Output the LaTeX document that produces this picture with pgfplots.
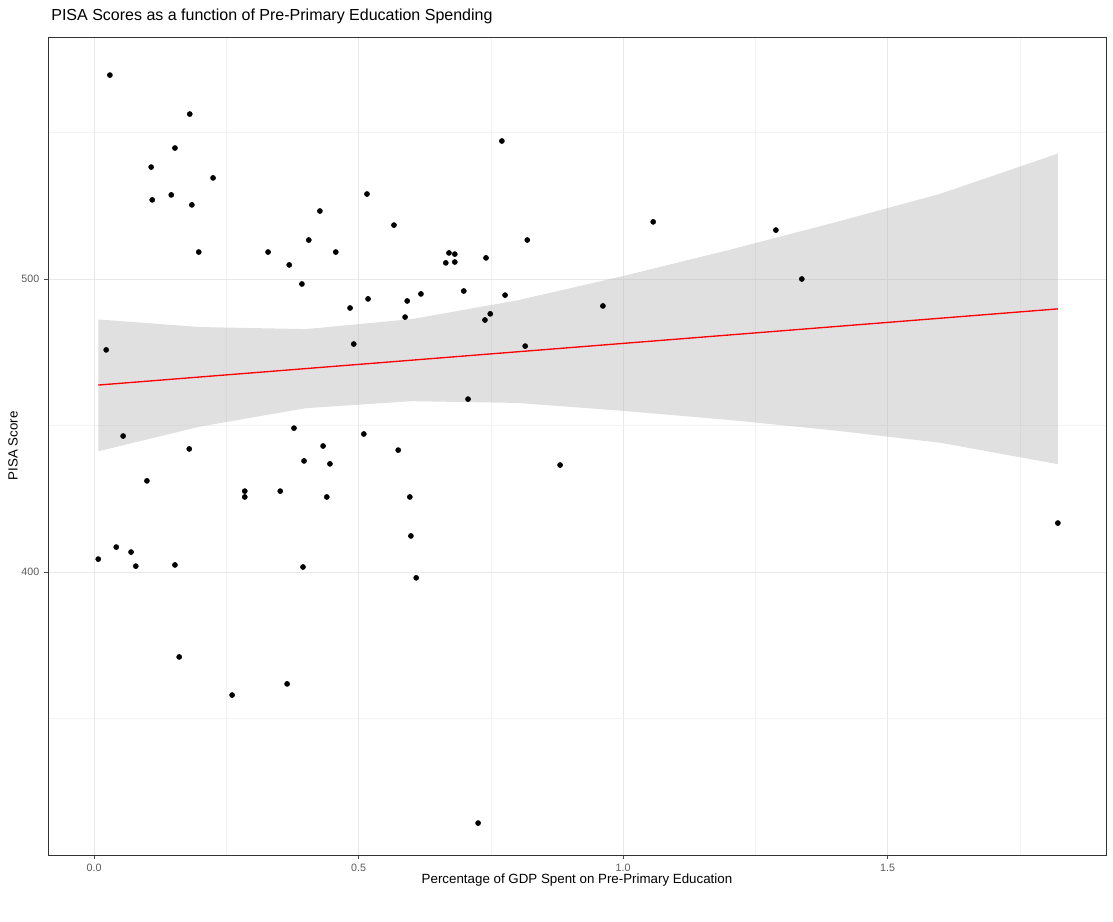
\documentclass[border=0pt]{standalone}
\usepackage{pgfplots}
\pgfplotsset{compat=1.18}
\usepackage{fontspec}
\setmainfont{Liberation Sans}
\begin{document}
\begin{tikzpicture}
\useasboundingbox (-36pt,-49.5pt) rectangle (798.75pt,641.25pt);
\begin{axis}[
  scale only axis, width=793.5pt, height=613.5pt,
  xmin=-0.087, xmax=1.913, ymin=303.4, ymax=582.6,
  xtick={0,0.5,1,1.5}, xticklabels={0.0,0.5,1.0,1.5},
  ytick={400,500}, minor xtick={0.25,0.75,1.25,1.75}, minor ytick={350,450,550},
  grid=both, major grid style={gray!18, line width=0.6pt}, minor grid style={gray!10, line width=0.4pt},
  tick style={black!70}, major tick length=3pt, minor tick length=0pt,
  tick align=outside, xtick pos=bottom, ytick pos=left,
  ticklabel style={font=\fontsize{8}{9}\selectfont, text=black!65},
  /pgf/number format/assume math mode=true,
  axis line style={black!80, line width=0.5pt},
  xlabel={Percentage of GDP Spent on Pre-Primary Education},
  ylabel={PISA Score},
  label style={font=\fontsize{10}{12}\selectfont},
  xlabel style={yshift=5pt}, ylabel style={yshift=-4pt},
  title={PISA Scores as a function of Pre-Primary Education Spending},
  title style={font=\fontsize{12}{14}\selectfont, anchor=south west, at={(0,1)}, xshift=-1pt, yshift=0pt},
]
\addplot[only marks, mark=*, mark size=1.9pt, black] coordinates {
(0.030,569.6)(0.181,556.3)(0.771,547.1)(0.153,544.7)(0.108,538.2)(0.225,534.5)
(0.146,528.7)(0.516,529.0)(0.110,527.0)(0.185,525.3)(0.427,523.2)(1.057,519.5)
(0.567,518.4)(1.289,516.7)(0.406,513.3)(0.819,513.3)(0.198,509.2)(0.329,509.2)
(0.457,509.2)(0.671,508.9)(0.682,508.5)(0.741,507.2)(0.369,504.8)(0.665,505.5)
(0.682,505.8)(1.338,500.0)(0.393,498.3)(0.699,495.9)(0.618,494.9)(0.777,494.5)
(0.518,493.2)(0.592,492.5)(0.962,490.8)(0.484,490.1)(0.749,488.1)(0.588,487.0)
(0.739,486.0)(0.023,475.8)(0.491,477.8)(0.815,477.1)(0.707,459.0)(0.378,449.1)
(0.055,446.4)(0.510,447.1)(0.433,443.0)(0.180,442.0)(0.575,441.6)(0.397,437.9)
(0.446,436.9)(0.881,436.5)(0.100,431.1)(0.285,427.6)(0.352,427.6)(0.285,425.6)
(0.440,425.6)(0.597,425.6)(1.822,416.7)(0.599,412.3)(0.042,408.5)(0.070,406.8)
(0.008,404.4)(0.079,402.0)(0.153,402.4)(0.395,401.7)(0.609,398.0)(0.161,371.0)
(0.365,361.8)(0.261,358.0)(0.726,314.3)};
\addplot[fill=gray!60, fill opacity=0.4, draw=none] coordinates {
(0.008,486.2)(0.2,483.6)(0.4,482.9)(0.6,486.3)(0.8,492.7)(1.0,501.0)(1.2,509.9)(1.4,519.3)(1.6,529.1)(1.822,542.8)
(1.822,436.8)(1.6,444.1)(1.4,448.3)(1.2,451.9)(1.0,455.0)(0.8,457.7)(0.6,458.3)(0.4,455.9)(0.2,449.6)(0.008,441.2)} -- cycle;
\addplot[red, line width=1pt] coordinates {(0.008,463.8)(1.822,489.8)};
\end{axis}
\end{tikzpicture}
\end{document}
